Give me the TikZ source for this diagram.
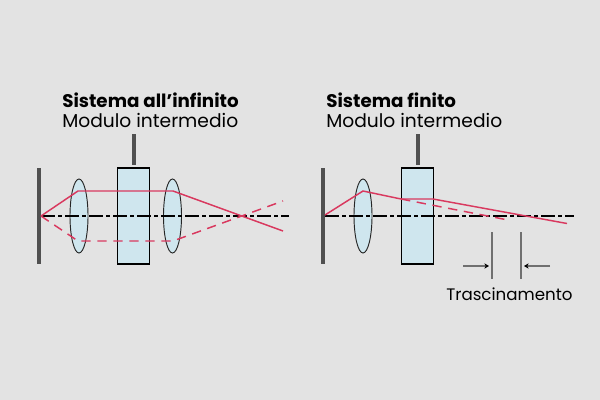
\documentclass[tikz,border=0pt]{standalone}
\usepackage{fontspec}
\setmainfont{Poppins}
\usetikzlibrary{arrows.meta}
\definecolor{bgc}{HTML}{E3E3E3}
\definecolor{glass}{HTML}{CFE6EE}
\definecolor{ray}{HTML}{D9395F}
\definecolor{barc}{HTML}{505050}
\definecolor{dimc}{HTML}{707070}
\tikzset{
  barline/.style={draw=barc,line width=3pt},
  blockbox/.style={draw=black,fill=glass,line width=.8pt,minimum width=24.4pt,minimum height=72pt,inner sep=0pt,outer sep=0pt},
  lensshape/.style={draw=black!85,fill=glass,line width=.7pt},
  axisline/.style={draw=black,line width=.85pt,dash pattern=on 10.5pt off 2.5pt on 2.5pt off 2.5pt},
  rayline/.style={draw=ray,line width=1.1pt},
  raydash/.style={rayline,dash pattern=on 7pt off 5pt},
  title/.style={anchor=base west,inner sep=0pt,font=\fontsize{13.7pt}{15pt}\selectfont\bfseries},
  sub/.style={anchor=base west,inner sep=0pt,font=\fontsize{14pt}{15pt}\selectfont},
  dimline/.style={draw=dimc,line width=1.1pt},
  dimarrow/.style={dimline,-{Stealth[length=3.5pt,width=4pt,black]}},
}
\begin{document}
\begin{tikzpicture}[x=.75pt,y=-.75pt]
\useasboundingbox (0,0) rectangle (600,400);
\fill[bgc] (0,0) rectangle (600,400);
% left system
\node[title] (t1) at (62,107) {Sistema all’infinito};
\node[sub] (s1) at (62,127) {Modulo intermedio};
\coordinate (lbt) at (39,168); \coordinate (lbb) at (39,264);
\draw[barline] (lbt) -- (lbb);
\coordinate (lst) at (133.5,134); \coordinate (lsb) at (133.5,165);
\draw[barline] (lst) -- (lsb);
\node[blockbox] (lbox) at (133.5,216) {};
\draw[lensshape] (79,216) ellipse (9 and 37);
\draw[lensshape] (172.5,216) ellipse (9 and 37);
\coordinate (la0) at (41,216); \coordinate (la1) at (289,216);
\draw[axisline] (la0) -- (la1);
\coordinate (lo) at (41,216);
\draw[rayline] (lo) -- (78,191) -- (173,191) -- (283,231);
\draw[raydash] (lo) -- (78,241) -- (173,241) -- (283,201);
% right system
\node[title] (t2) at (326,107) {Sistema finito};
\node[sub] (s2) at (326,127) {Modulo intermedio};
\coordinate (rbt) at (323,168); \coordinate (rbb) at (323,264);
\draw[barline] (rbt) -- (rbb);
\coordinate (rst) at (417.5,134); \coordinate (rsb) at (417.5,165);
\draw[barline] (rst) -- (rsb);
\node[blockbox] (rbox) at (417.5,216) {};
\draw[lensshape] (363,216) ellipse (9 and 37);
\coordinate (ra0) at (325,216); \coordinate (ra1) at (574,216);
\draw[axisline] (ra0) -- (ra1);
\coordinate (ro) at (325,215);
\draw[rayline] (ro) -- (363,191) -- (401,199) -- (433,199) -- (567,223.5);
\coordinate (rd0) at (401,199); \coordinate (rd1) at (508,220);
\draw[raydash] (rd0) -- (rd1);
\coordinate (d1t) at (492,232); \coordinate (d1b) at (492,279);
\coordinate (d2t) at (521,232); \coordinate (d2b) at (521,279);
\draw[dimline] (d1t) -- (d1b);
\draw[dimline] (d2t) -- (d2b);
\coordinate (a1s) at (463,266); \coordinate (a1e) at (489,266);
\coordinate (a2s) at (550,266); \coordinate (a2e) at (524,266);
\draw[dimarrow] (a1s) -- (a1e);
\draw[dimarrow] (a2s) -- (a2e);
\node[anchor=base west,inner sep=0pt,font=\fontsize{12.5pt}{14pt}\selectfont] (tr) at (446,300) {Trascinamento};
\end{tikzpicture}
\end{document}
